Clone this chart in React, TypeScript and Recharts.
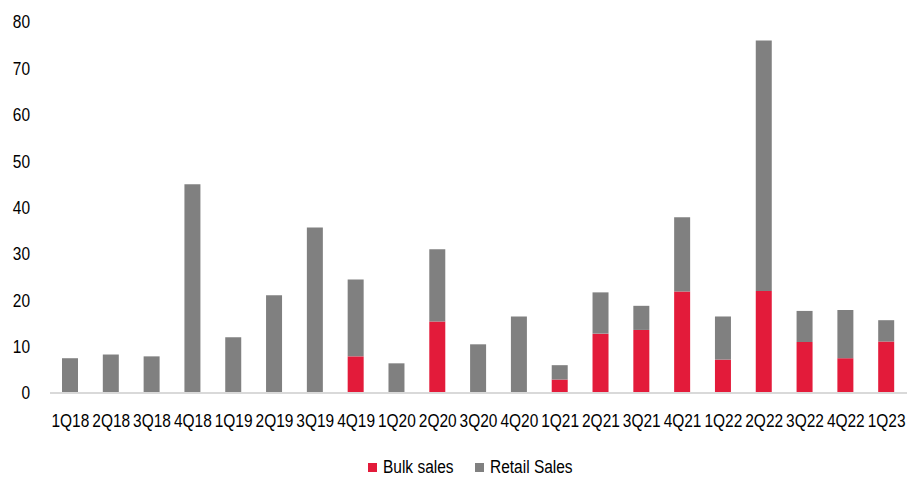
import { BarChart, Bar, XAxis, YAxis, Legend } from 'recharts';

const quarters = ['1Q18', '2Q18', '3Q18', '4Q18', '1Q19', '2Q19', '3Q19', '4Q19', '1Q20', '2Q20', '3Q20', '4Q20', '1Q21', '2Q21', '3Q21', '4Q21', '1Q22', '2Q22', '3Q22', '4Q22', '1Q23'];
const bulkSales = [0, 0, 0, 0, 0, 0, 0, 7.9, 0, 15.4, 0, 0, 2.9, 12.8, 13.6, 21.9, 7.2, 22.0, 11.0, 7.5, 11.1];
const retailSales = [7.5, 8.3, 7.9, 45.0, 12.0, 21.1, 35.7, 16.6, 6.4, 15.6, 10.5, 16.5, 3.1, 8.9, 5.2, 16.0, 9.3, 54.0, 6.7, 10.4, 4.6];
const yTicks = [0, 10, 20, 30, 40, 50, 60, 70, 80];

const RED = '#E31B3A';
const GREY = '#808080';
const FONT = '"Liberation Sans", Arial, sans-serif';
const FS = 18;
const SQUEEZE = 0.86; // no narrow font installed, so squash Arial-alike horizontally

const data = quarters.map((q, i) => ({ name: q, bulk: bulkSales[i], retail: retailSales[i] }));

// eslint-disable-next-line @typescript-eslint/no-explicit-any
const NarrowTick = ({ x, y, payload, anchor, dy }: any) => (
    <g transform={`translate(${x},${y}) scale(${SQUEEZE},1)`}>
        <text x={0} y={0} dy={dy} textAnchor={anchor} fill="#000" fontSize={FS} fontFamily={FONT}>
            {payload.value}
        </text>
    </g>
);

const squeezed = { display: 'inline-block', transform: `scaleX(${SQUEEZE})`, transformOrigin: 'left center', whiteSpace: 'nowrap' as const };

// legend drawn by hand so it sits where the original does
const LegendBox = () => (
    <div style={{ position: 'relative', height: 22, fontFamily: FONT, fontSize: FS, color: '#000', lineHeight: '22px' }}>
        <span style={{ position: 'absolute', left: 368, top: 7, width: 9, height: 9, background: RED }} />
        <span style={{ position: 'absolute', left: 383, top: 0, ...squeezed }}>Bulk sales</span>
        <span style={{ position: 'absolute', left: 475, top: 7, width: 9, height: 9, background: GREY }} />
        <span style={{ position: 'absolute', left: 490, top: 0, ...squeezed }}>Retail Sales</span>
    </div>
);

export default function App() {
    return (
        <div style={{ position: 'absolute', left: 0, top: 0, width: 911, height: 477, background: '#fff' }}>
            <BarChart width={911} height={477} data={data} margin={{ top: 22, right: 4, left: 0, bottom: 2 }} barSize={16}>
                <XAxis
                    dataKey="name"
                    height={60}
                    tickSize={0}
                    tickMargin={21}
                    tickLine={false}
                    axisLine={{ stroke: '#d9d9d9', strokeWidth: 2 }}
                    interval={0}
                    tick={<NarrowTick anchor="middle" dy="0.71em" />}
                />
                <YAxis
                    width={50}
                    domain={[0, 80]}
                    ticks={yTicks}
                    tickSize={0}
                    tickMargin={20}
                    tickLine={false}
                    axisLine={false}
                    tick={<NarrowTick anchor="end" dy="0.355em" />}
                />
                <Legend content={<LegendBox />} wrapperStyle={{ top: 456, left: 0, width: 911, height: 22 }} />
                <Bar dataKey="bulk" name="Bulk sales" stackId="s" fill={RED} isAnimationActive={false} />
                <Bar dataKey="retail" name="Retail Sales" stackId="s" fill={GREY} isAnimationActive={false} />
            </BarChart>
        </div>
    );
}
